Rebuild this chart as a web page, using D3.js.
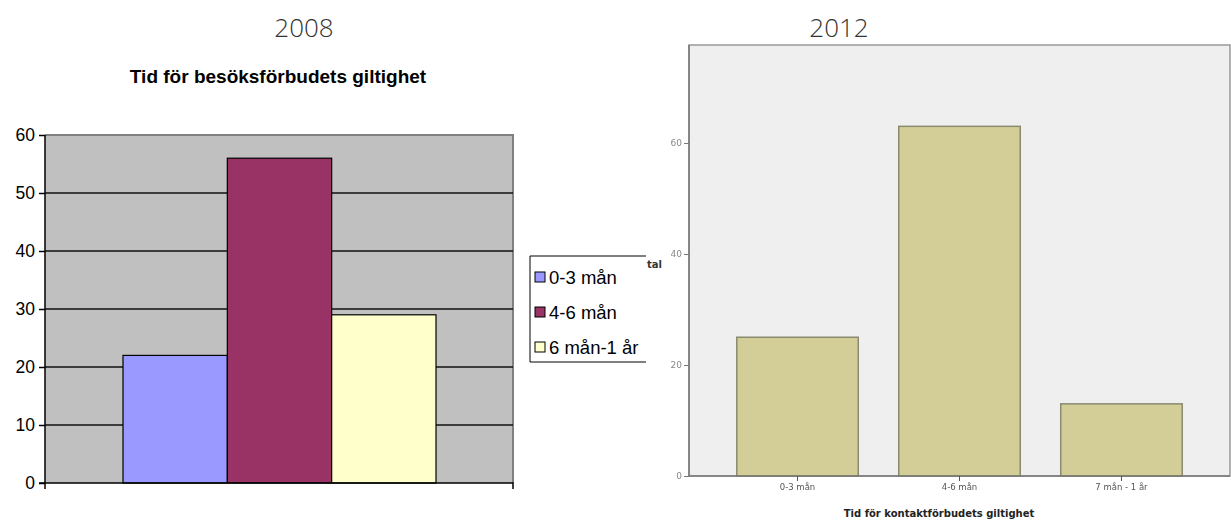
<!DOCTYPE html>
<html>
<head>
<meta charset="utf-8">
<script src="https://cdn.jsdelivr.net/npm/d3@7"></script>
<style>
  body { margin: 0; background: #fff; }
  svg { display: block; }
</style>
</head>
<body>
<svg id="chart" width="1231" height="521"></svg>
<script>
// 2008 chart data
const categories2008 = ['0-3 mån', '4-6 mån', '6 mån-1 år'];
const values2008 = [22, 56, 29];
const colors2008 = ['#9999ff', '#993366', '#ffffcc'];
const yTicks2008 = [0, 10, 20, 30, 40, 50, 60];

// 2012 chart data
const categories2012 = ['0-3 mån', '4-6 mån', '7 mån - 1 år'];
const values2012 = [25, 63, 13];
const yTicks2012 = [0, 20, 40, 60];

const svg = d3.select('#chart');
const ARIAL = "'Liberation Sans', Arial, sans-serif";

// soft blur for the scanned-looking 2012 chart text
const defs = svg.append('defs');
defs.append('filter').attr('id', 'soft')
  .append('feGaussianBlur').attr('stdDeviation', 0.45);

// ── Headings ──────────────────────────────────────────────
[['2008', 304], ['2012', 839]].forEach(([t, x]) => {
  svg.append('text').attr('x', x).attr('y', 37)
    .attr('text-anchor', 'middle')
    .attr('font-family', "'Open Sans', sans-serif").attr('font-weight', 300)
    .attr('font-size', 26).attr('fill', '#333')
    .text(t);
});

// ── Left chart (2008) ─────────────────────────────────────
const L = { x0: 45, x1: 513, y0: 135, y1: 483 };
const xL = d3.scaleBand().domain(categories2008).range([L.x0 + 78, L.x1 - 77]).padding(0);
const yL = d3.scaleLinear().domain([0, 60]).range([L.y1, L.y0]);

svg.append('text').attr('x', 278).attr('y', 83)
  .attr('text-anchor', 'middle')
  .attr('font-family', ARIAL).attr('font-weight', 'bold')
  .attr('font-size', 19).attr('fill', '#000')
  .text('Tid för besöksförbudets giltighet');

const gL = svg.append('g');
gL.append('rect').attr('x', L.x0).attr('y', L.y0)
  .attr('width', L.x1 - L.x0).attr('height', L.y1 - L.y0)
  .attr('fill', '#c0c0c0');
// plot border top/right
gL.append('path')
  .attr('d', `M${L.x0},${L.y0}H${L.x1}V${L.y1}`)
  .attr('fill', 'none').attr('stroke', '#808080').attr('stroke-width', 2);

// gridlines
gL.selectAll('.grid').data(yTicks2008.filter(t => t > 0 && t < 60)).join('line')
  .attr('x1', L.x0).attr('x2', L.x1)
  .attr('y1', d => yL(d)).attr('y2', d => yL(d))
  .attr('stroke', '#111').attr('stroke-width', 1.5);

// bars
gL.selectAll('.bar').data(values2008).join('rect')
  .attr('x', (d, i) => xL(categories2008[i]))
  .attr('y', d => yL(d))
  .attr('width', xL.bandwidth())
  .attr('height', d => yL(0) - yL(d))
  .attr('fill', (d, i) => colors2008[i])
  .attr('stroke', '#000').attr('stroke-width', 1.2);

// y axis
const axL = gL.append('g').attr('transform', `translate(${L.x0},0)`)
  .call(d3.axisLeft(yL).tickValues(yTicks2008).tickSize(6).tickPadding(4));
axL.select('.domain').attr('stroke', '#000').attr('stroke-width', 1.5)
  .attr('d', `M0,${L.y0}V${L.y1 + 6}`);
axL.selectAll('.tick line').attr('stroke', '#000').attr('stroke-width', 1.5);
axL.selectAll('.tick text')
  .attr('font-family', ARIAL)
  .attr('font-size', 17.5).attr('fill', '#000');

// x axis line
gL.append('path')
  .attr('d', `M${L.x0 - 6},${L.y1}H${L.x1}V${L.y1 + 6}`)
  .attr('fill', 'none').attr('stroke', '#000').attr('stroke-width', 1.5);

// legend
const leg = svg.append('g');
leg.append('path')
  .attr('d', 'M646,256H530V362H646')
  .attr('fill', '#fff').attr('stroke', '#000').attr('stroke-width', 1);
categories2008.forEach((c, i) => {
  const cy = 277 + i * 35;
  leg.append('rect').attr('x', 535).attr('y', cy - 5).attr('width', 10).attr('height', 10)
    .attr('fill', colors2008[i]).attr('stroke', '#000').attr('stroke-width', 1);
  leg.append('text').attr('x', 549).attr('y', cy + 7)
    .attr('font-family', ARIAL)
    .attr('font-size', 18.5).attr('fill', '#000')
    .text(c);
});

// ── Right chart (2012) ────────────────────────────────────
const R = { x0: 689, x1: 1230, y0: 45, y1: 476 };
const xR = d3.scaleBand().domain(categories2012).range([R.x0, R.x1])
  .paddingInner(0.25).paddingOuter(0.295);
const yR = d3.scaleLinear().domain([0, 60]).range([R.y1, 143]);

const gR = svg.append('g');
gR.append('rect').attr('x', R.x0).attr('y', R.y0)
  .attr('width', R.x1 - R.x0).attr('height', R.y1 - R.y0)
  .attr('fill', '#efefef').attr('stroke', '#999').attr('stroke-width', 1.5);

gR.selectAll('.bar').data(values2012).join('rect')
  .attr('x', (d, i) => xR(categories2012[i]))
  .attr('y', d => yR(d))
  .attr('width', xR.bandwidth())
  .attr('height', d => yR(0) - yR(d))
  .attr('fill', '#d3ce97')
  .attr('stroke', '#8a8a70').attr('stroke-width', 1.5);

const axRy = gR.append('g').attr('transform', `translate(${R.x0},0)`)
  .call(d3.axisLeft(yR).tickValues(yTicks2012).tickSize(5).tickPadding(2));
axRy.select('.domain').attr('stroke', '#777').attr('stroke-width', 1.5)
  .attr('d', `M0,${R.y0}V${R.y1}`);
axRy.selectAll('.tick line').attr('stroke', '#777');
axRy.selectAll('.tick text')
  .attr('font-family', "'DejaVu Sans', sans-serif")
  .attr('font-size', 9).attr('fill', '#888')
  .attr('filter', 'url(#soft)');

const axRx = gR.append('g').attr('transform', `translate(0,${R.y1})`)
  .call(d3.axisBottom(xR).tickSize(5).tickPadding(3));
axRx.select('.domain').attr('stroke', '#777').attr('stroke-width', 1.5)
  .attr('d', `M${R.x0},0H${R.x1}`);
axRx.selectAll('.tick line').attr('stroke', '#555');
axRx.selectAll('.tick text')
  .attr('font-family', "'DejaVu Sans', sans-serif")
  .attr('font-size', 8.5).attr('fill', '#555')
  .attr('filter', 'url(#soft)');

svg.append('text').attr('x', 939).attr('y', 517)
  .attr('text-anchor', 'middle')
  .attr('font-family', "'DejaVu Sans', sans-serif").attr('font-weight', 'bold')
  .attr('font-size', 10).attr('fill', '#222')
  .text('Tid för kontaktförbudets giltighet');

// partial y-axis title peeking out from under the legend
svg.append('text').attr('x', 647).attr('y', 268)
  .attr('font-family', "'DejaVu Sans', sans-serif").attr('font-weight', 'bold')
  .attr('font-size', 10).attr('fill', '#333')
  .text('tal');
</script>
</body>
</html>
